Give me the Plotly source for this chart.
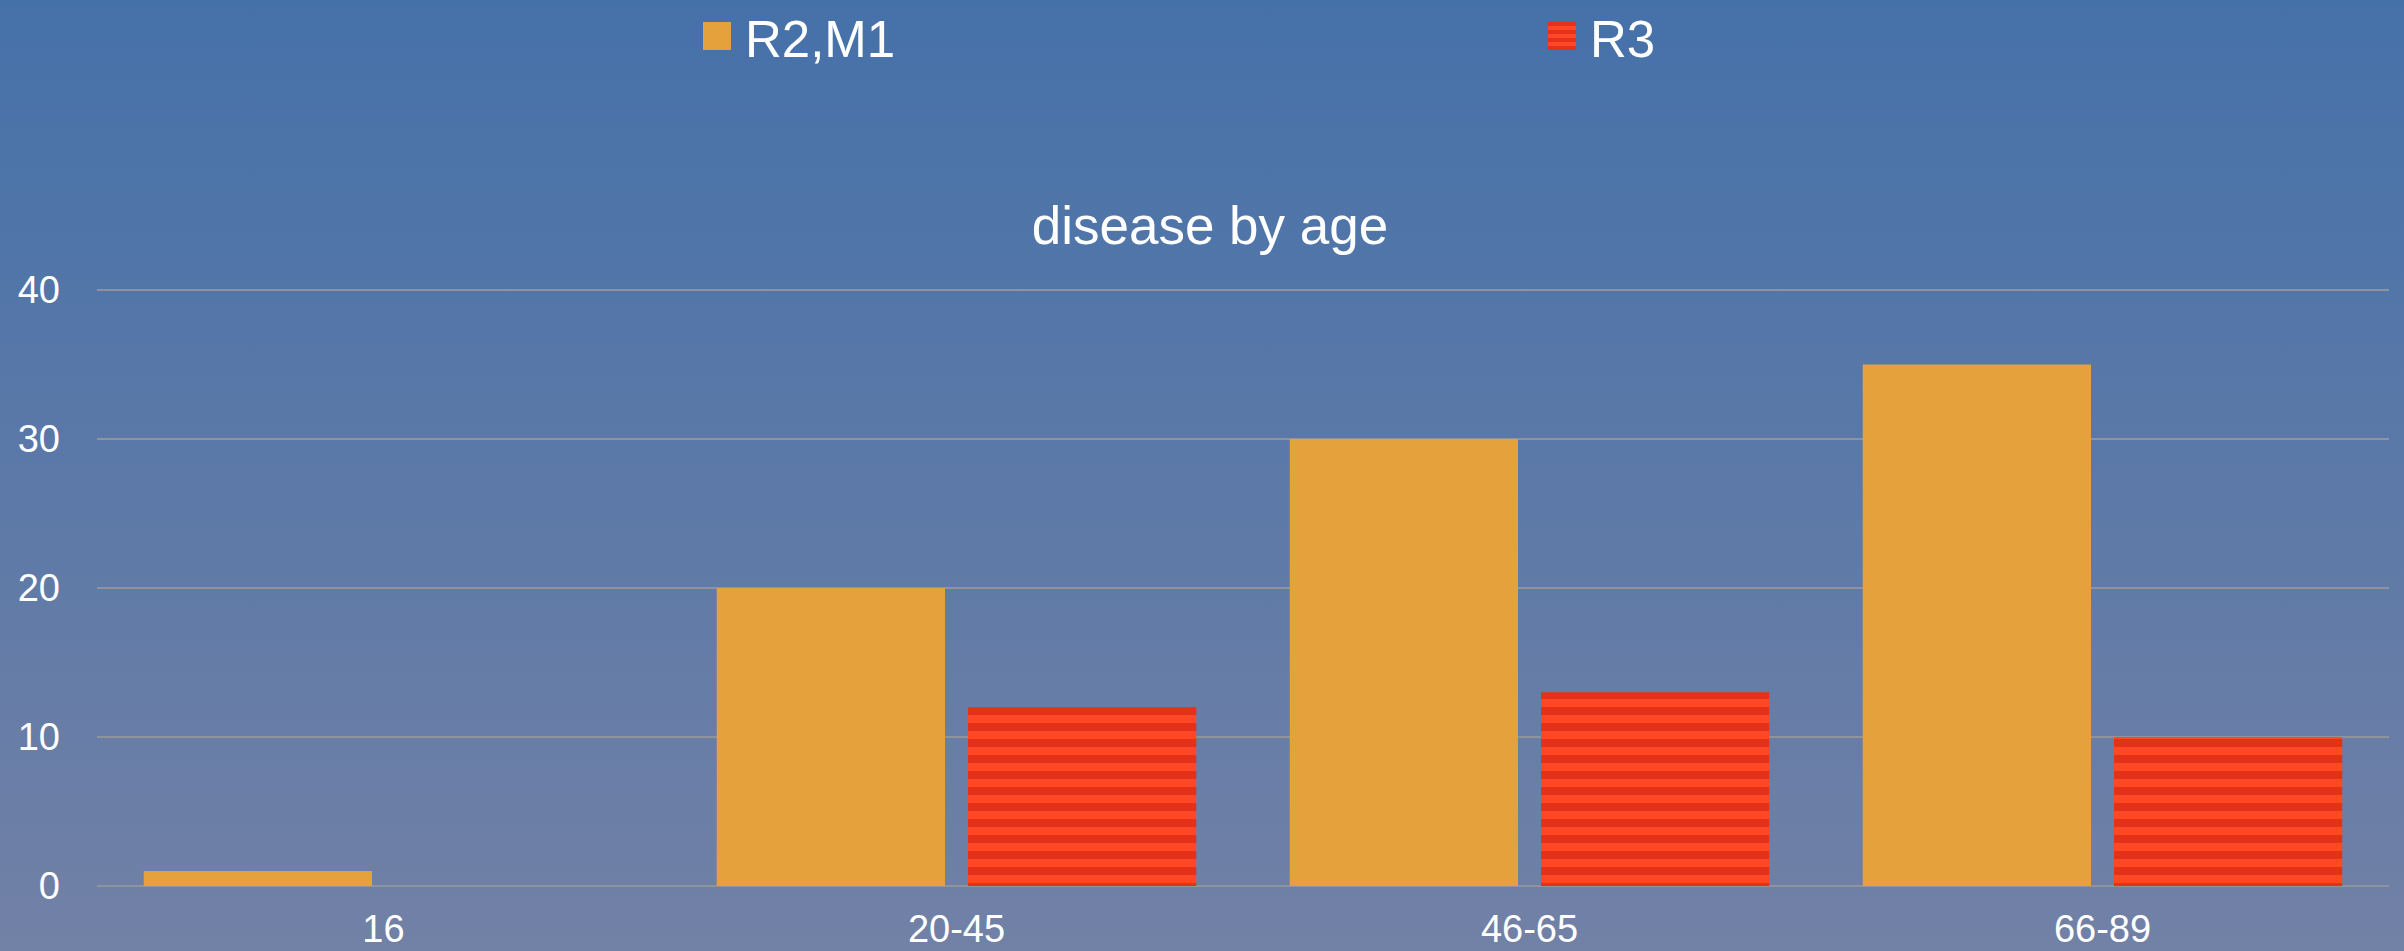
import base64
import plotly.graph_objects as go

# ---- data ----
categories = ["16", "20-45", "46-65", "66-89"]
r2m1_values = [1, 20, 30, 35]
r3_values = [0, 12, 13, 10]
series_names = ["R2,M1", "R3"]
y_ticks = [0, 10, 20, 30, 40]
title_text = "disease by age"

# ---- layout geometry (pixels) ----
W, H = 2404, 951
L, R, T, B = 97, 2389, 290, 886
EXTRA = 3  # a few px above the 40 line so its gridline is drawn
PW, PH = R - L, B - (T - EXTRA)
Y_MAX = 40 * PH / (B - T)

ORANGE = "#E5A23C"
RED_LIGHT = "#FF4726"
RED_DARK = "#E4321A"
GRID = "#90939C"
FONT = "Liberation Sans, Arial, sans-serif"


def px_x(x):
    return (x - L) / PW


def px_y(y):
    return (B - y) / PH


# gradient background as svg
svg = (
    f'<svg xmlns="http://www.w3.org/2000/svg" width="{W}" height="{H}" preserveAspectRatio="none">'
    '<defs><linearGradient id="g" x1="0" y1="0" x2="0" y2="1">'
    '<stop offset="0" stop-color="#4571A9"/>'
    '<stop offset="1" stop-color="#7281A6"/>'
    '</linearGradient></defs>'
    f'<rect width="{W}" height="{H}" fill="url(#g)"/></svg>'
)
svg_uri = "data:image/svg+xml;base64," + base64.b64encode(svg.encode()).decode()

fig = go.Figure()
fig.add_trace(go.Bar(
    x=categories, y=r2m1_values, name=series_names[0],
    marker=dict(color=ORANGE, line=dict(width=0)),
))
fig.add_trace(go.Bar(
    x=categories, y=r3_values, name=series_names[1],
    marker=dict(color=RED_LIGHT, line=dict(width=0),
                pattern=dict(shape="-", fgcolor=RED_DARK, bgcolor=RED_LIGHT,
                             size=16, solidity=0.5, fillmode="replace")),
))

LEG_Y0, LEG_Y1 = 22, 50
shapes = []
# manual legend squares
shapes.append(dict(type="rect", xref="paper", yref="paper",
                   x0=px_x(703), x1=px_x(731), y0=px_y(LEG_Y1), y1=px_y(LEG_Y0),
                   fillcolor=ORANGE, line=dict(width=0), layer="above"))
shapes.append(dict(type="rect", xref="paper", yref="paper",
                   x0=px_x(1548), x1=px_x(1576), y0=px_y(LEG_Y1), y1=px_y(LEG_Y0),
                   fillcolor=RED_LIGHT, line=dict(width=0), layer="above"))
for a in range(LEG_Y0, LEG_Y1, 8):
    shapes.append(dict(type="rect", xref="paper", yref="paper",
                       x0=px_x(1548), x1=px_x(1576), y0=px_y(a + 4), y1=px_y(a),
                       fillcolor=RED_DARK, line=dict(width=0), layer="above"))

annotations = [
    dict(text=series_names[0], xref="paper", yref="paper", x=px_x(743), y=px_y(39),
         xanchor="left", yanchor="middle", showarrow=False,
         font=dict(family=FONT, size=51, color="white")),
    dict(text=series_names[1], xref="paper", yref="paper", x=px_x(1588), y=px_y(39),
         xanchor="left", yanchor="middle", showarrow=False,
         font=dict(family=FONT, size=51, color="white")),
]

fig.update_layout(
    width=W, height=H,
    margin=dict(l=L, r=W - R, t=T - EXTRA, b=H - B, pad=0, autoexpand=False),
    paper_bgcolor="#5B7AA8",
    plot_bgcolor="rgba(0,0,0,0)",
    showlegend=False,
    barmode="group",
    bargap=0.123,
    bargroupgap=0.0915,
    title=dict(text=title_text, x=1210 / W, xanchor="center", xref="container",
               y=1 - 225 / H, yanchor="middle", yref="container",
               font=dict(family=FONT, size=53, color="white")),
    font=dict(family=FONT, color="white"),
    images=[dict(source=svg_uri, xref="paper", yref="paper",
                 x=px_x(0), y=px_y(0), sizex=W / PW, sizey=H / PH,
                 xanchor="left", yanchor="top", sizing="stretch", layer="below")],
    shapes=shapes,
    annotations=annotations,
)
fig.update_xaxes(
    type="category", showgrid=False, showline=False, ticks="", automargin=False,
    tickfont=dict(family=FONT, size=38, color="white"),
    ticklabelstandoff=17,
)
fig.update_yaxes(
    range=[0, Y_MAX], tickvals=y_ticks, showgrid=True, gridcolor=GRID, gridwidth=2,
    zeroline=True, zerolinecolor=GRID, zerolinewidth=2, showline=False, ticks="",
    automargin=False,
    tickfont=dict(family=FONT, size=38, color="white"),
    ticklabelstandoff=36,
)

fig.write_html(
    "out.html",
    config={"displayModeBar": False},
    post_script="document.body.style.margin='0';document.body.style.overflow='hidden';",
)
